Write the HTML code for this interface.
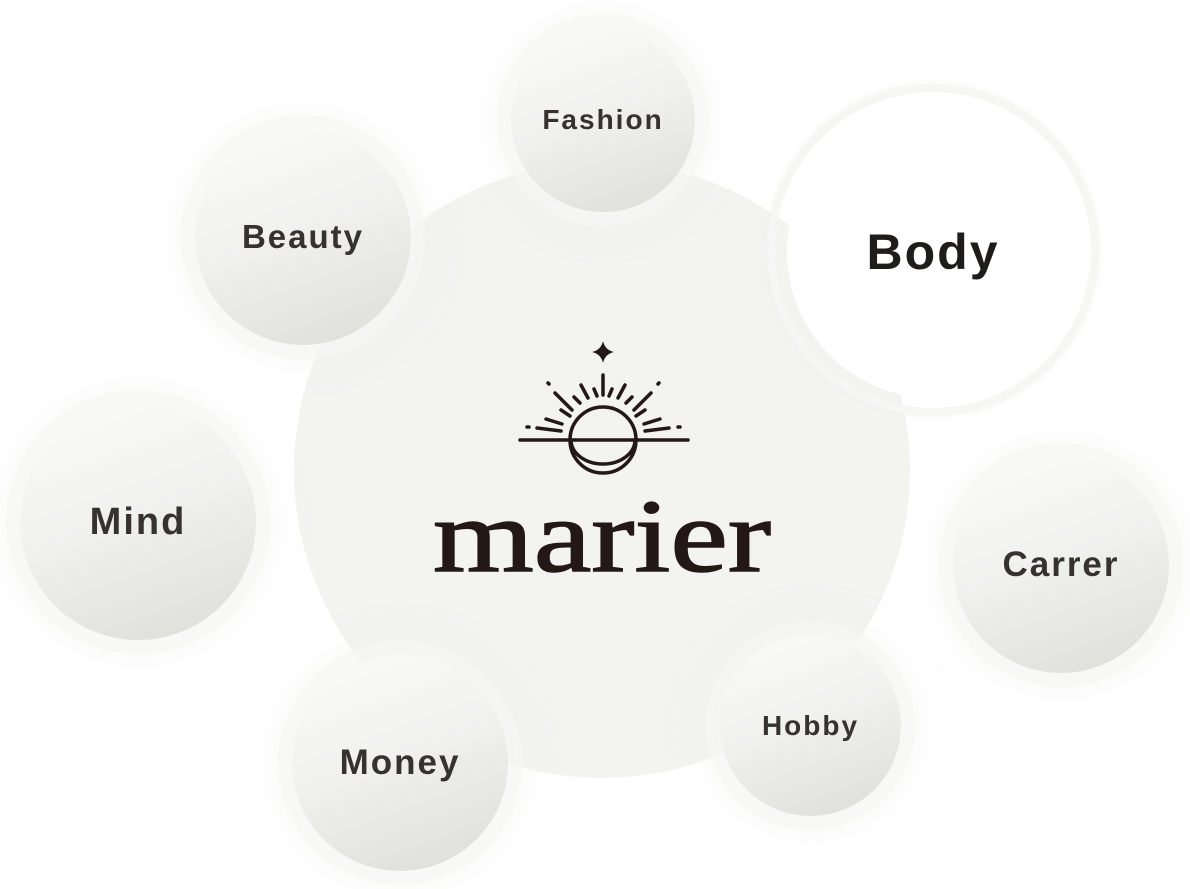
<!DOCTYPE html>
<html><head><meta charset="utf-8"><style>
html,body{margin:0;padding:0;background:#fff;}
body{width:1190px;height:889px;position:relative;overflow:hidden;font-family:"Liberation Sans",sans-serif;}
.c{position:absolute;border-radius:50%;display:flex;align-items:center;justify-content:center;color:#35322f;letter-spacing:2px;font-weight:bold;
background:linear-gradient(160deg,#fbfbfa 0%,#f1f1ee 45%,#dcddd7 100%);
box-shadow:0 0 0 14px rgba(246,246,244,0.6),0 0 30px 16px rgba(242,242,239,0.5);}
.big{position:absolute;left:294px;top:162px;width:616px;height:616px;border-radius:50%;background:#f3f3f0;}
</style></head><body>
<div class="big"></div>
<div class="c" style="left:511px;top:28px;width:184px;height:184px;font-size:28px;">Fashion</div>
<div class="c" style="left:195px;top:129px;width:216px;height:216px;font-size:33px;">Beauty</div>
<div style="position:absolute;left:767px;top:84px;width:332px;height:332px;border-radius:50%;border:8px solid #f6f6f4;box-sizing:border-box;box-shadow:0 0 6px rgba(235,235,232,0.6);"></div>
<div class="c" style="left:787px;top:106px;width:292px;height:292px;font-size:50px;background:#fff;box-shadow:none;color:#1f1d1b;">Body</div>
<div class="c" style="left:20px;top:404px;width:236px;height:236px;font-size:38px;">Mind</div>
<div class="c" style="left:953px;top:457px;width:216px;height:216px;font-size:35px;">Carrer</div>
<div class="c" style="left:292px;top:655px;width:216px;height:216px;font-size:35px;">Money</div>
<div class="c" style="left:720px;top:635px;width:181px;height:181px;font-size:28px;">Hobby</div>
<svg style="position:absolute;left:0;top:0" width="1190" height="889">
<g stroke="#231815" stroke-linecap="round" fill="none" stroke-width="3.5">
<line x1="520" y1="440" x2="688" y2="440"/>
<circle cx="603" cy="440" r="33"/>
<path d="M571 440 A32 24 0 0 0 635 440"/>
<line x1="603" y1="375" x2="603" y2="395"/>
<line x1="594" y1="389" x2="597" y2="396"/><line x1="612" y1="389" x2="609" y2="396"/>
<line x1="581" y1="385" x2="588" y2="398"/><line x1="625" y1="385" x2="618" y2="398"/>
<line x1="574" y1="397" x2="580" y2="403"/><line x1="632" y1="397" x2="626" y2="403"/>
<line x1="555" y1="393" x2="572" y2="410"/><line x1="651" y1="393" x2="634" y2="410"/>
<line x1="548" y1="383" x2="549" y2="384"/><line x1="659" y1="383" x2="658" y2="384"/>
<line x1="561" y1="410" x2="570" y2="416"/><line x1="645" y1="410" x2="636" y2="416"/>
<line x1="546" y1="419" x2="562" y2="424"/><line x1="660" y1="419" x2="644" y2="424"/>
<line x1="537" y1="428" x2="561" y2="431"/><line x1="669" y1="428" x2="645" y2="431"/>
<line x1="527" y1="427" x2="529" y2="427"/><line x1="680" y1="427" x2="678" y2="427"/>
</g>
<path d="M603 341 Q605 350 614 352 Q605 354 603 363 Q601 354 592 352 Q601 350 603 341Z" fill="#231815"/>
<text x="433" y="571" textLength="338" lengthAdjust="spacingAndGlyphs" font-family="Liberation Serif,serif" font-size="104" fill="#231815" stroke="#231815" stroke-width="1.5">marier</text>
</svg>
</body></html>
